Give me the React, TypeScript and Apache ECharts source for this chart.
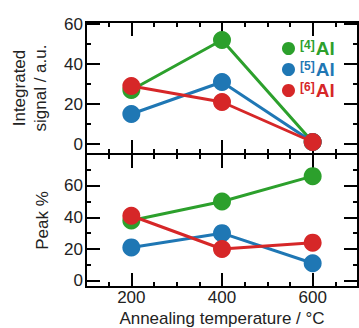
import React, { useEffect, useRef } from "react";
import * as echarts from "echarts";

const temperatures = [200, 400, 600];
const seriesNames = ["[4]Al", "[5]Al", "[6]Al"];
const colors = ["#2ca02c", "#1f77b4", "#d62728"];
const signal4 = [27, 52, 1];
const signal5 = [15, 31, 1];
const signal6 = [29, 21, 1];
const peak4 = [38, 50, 66];
const peak5 = [21, 30, 11];
const peak6 = [41, 20, 24];
const xMajorTicks = [200, 400, 600];
const xMinorTicks = [100, 150, 200, 250, 300, 350, 400, 450, 500, 550, 600, 650, 700];
const yMajorTicks = [0, 20, 40, 60];
const yMinorTicksTop = [0, 10, 20, 30, 40, 50, 60];
const yMinorTicksBottom = [0, 10, 20, 30, 40, 50, 60, 70, 80];

const FONT = "Liberation Sans, Arial, sans-serif";

export default function App() {
  const ref = useRef<HTMLDivElement>(null);
  useEffect(() => {
    if (!ref.current) return;
    const chart = echarts.init(ref.current, null, { renderer: "svg" });
    const line = { show: true, lineStyle: { color: "#000", width: 2 } };
    const xAxes: any[] = [];
    const yAxes: any[] = [];
    [0, 1].forEach((g) => {
      (["bottom", "top"] as const).forEach((pos) => {
        [true, false].forEach((major) => {
          const showLabel = g === 1 && pos === "bottom" && major;
          xAxes.push({
            type: "value",
            gridIndex: g,
            position: pos,
            min: 100,
            max: 700,
            axisLine: { ...line, onZero: false },
            axisTick: {
              show: true,
              inside: true,
              length: major ? 14 : 5,
              customValues: major ? xMajorTicks : xMinorTicks,
              lineStyle: { color: "#000", width: 2 },
            },
            axisLabel: showLabel
              ? { show: true, customValues: xMajorTicks, color: "#222", fontSize: 17, fontFamily: FONT, margin: 2 }
              : { show: false },
            splitLine: { show: false },
            name: showLabel ? "Annealing temperature / °C" : "",
            nameLocation: "middle",
            nameGap: 23,
            nameTextStyle: { color: "#222", fontSize: 17, fontFamily: FONT, lineHeight: 17 },
          });
        });
      });
      (["left", "right"] as const).forEach((pos) => {
        [true, false].forEach((major) => {
          const showLabel = pos === "left" && major;
          yAxes.push({
            type: "value",
            gridIndex: g,
            position: pos,
            min: g === 0 ? -5 : -4,
            max: g === 0 ? 61 : 80,
            axisLine: { ...line, onZero: false },
            axisTick: {
              show: true,
              inside: true,
              length: major ? 14 : 5,
              customValues: major ? yMajorTicks : g === 0 ? yMinorTicksTop : yMinorTicksBottom,
              lineStyle: { color: "#000", width: 2 },
            },
            axisLabel: showLabel
              ? { show: true, customValues: yMajorTicks, color: "#222", fontSize: 17, fontFamily: FONT, margin: 3 }
              : { show: false },
            splitLine: { show: false },
            name: showLabel ? (g === 0 ? "Integrated\nsignal / a.u." : "Peak %") : "",
            nameLocation: "middle",
            nameRotate: 90,
            nameGap: g === 0 ? 35 : 32,
            nameTextStyle: { color: "#222", fontSize: 17, fontFamily: FONT, lineHeight: 21 },
          });
        });
      });
    });
    const top = [signal4, signal5, signal6];
    const bottom = [peak4, peak5, peak6];
    const series: any[] = [];
    [top, bottom].forEach((set, g) => {
      set.forEach((vals, i) => {
        series.push({
          type: "line",
          name: seriesNames[i],
          xAxisIndex: g * 4,
          yAxisIndex: g * 4,
          data: temperatures.map((t, k) => [t, vals[k]]),
          symbol: "circle",
          symbolSize: 18,
          color: colors[i],
          lineStyle: { width: 3, color: colors[i] },
          itemStyle: { color: colors[i] },
          z: 2 + i,
        });
      });
    });
    const rich: any = {};
    ["a", "b", "c"].forEach((k, i) => {
      rich[k + "s"] = { color: colors[i], fontSize: 12, fontFamily: FONT, fontWeight: "bold", verticalAlign: "top", padding: [0, 1, 7, 0] };
      rich[k + "a"] = { color: colors[i], fontSize: 19, fontFamily: FONT, fontWeight: "bold" };
    });
    chart.setOption({
      animation: false,
      grid: [
        { left: 86, top: 22, width: 272, height: 132, outerBoundsMode: "none", containLabel: false },
        { left: 86, top: 154, width: 272, height: 133, outerBoundsMode: "none", containLabel: false },
      ],
      xAxis: xAxes,
      yAxis: yAxes,
      legend: {
        data: seriesNames,
        orient: "vertical",
        left: 277,
        top: 34,
        icon: "circle",
        itemWidth: 13,
        itemHeight: 13,
        itemGap: 2,
        selectedMode: false,
        textStyle: { rich },
        formatter: (name: string) => {
          const idx = seriesNames.indexOf(name);
          const k = ["a", "b", "c"][idx];
          return `{${k}s|${name.slice(0, 3)}}{${k}a|${name.slice(3)}}`;
        },
      },
      series,
    });
    return () => chart.dispose();
  }, []);
  return (
    <div
      ref={ref}
      style={{ position: "absolute", left: 0, top: 0, width: 359, height: 328, background: "#fff" }}
    />
  );
}
